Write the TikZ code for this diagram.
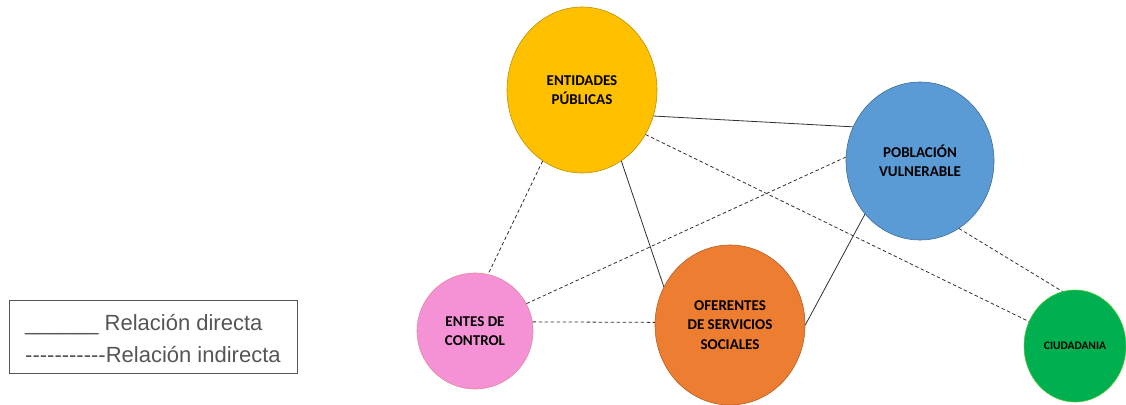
\documentclass[tikz,border=0pt]{standalone}
\usepackage{fontspec}
\setmainfont{Carlito}
\newfontfamily\legfont{Liberation Sans}
\usetikzlibrary{shapes.geometric}
\definecolor{amarillo}{HTML}{FFC000}
\definecolor{azul}{HTML}{5B9BD5}
\definecolor{rosa}{HTML}{F592D6}
\definecolor{naranja}{HTML}{ED7D31}
\definecolor{verde}{HTML}{00B050}
\definecolor{linea}{HTML}{303030}
\definecolor{gris}{HTML}{555555}

\begin{document}
\begin{tikzpicture}[x=1pt,y=-1pt] \tikzset{% circles, lines and legend
        ent/.style={ellipse,inner sep=0pt,align=center,line width=0.6pt,
          font=\bfseries\fontsize{15}{19.5}\selectfont},
        c1/.style={-, linea, line width=0.8pt},
        c2/.style={linea, line width=0.8pt, dash pattern=on 3.5pt off 2.5pt},
        %leg/.style={gris},
        leg/.style={inner sep=0pt, anchor=base west, text=gris, font=\legfont\fontsize{22}{26}\selectfont},
        }
        \useasboundingbox (0,0) rectangle (1126,404);
        % Nodes
        \node[ent,fill=amarillo,draw=amarillo!75!black,minimum width=150,minimum height=166] (n1) at (582,90) {ENTIDADES\\PÚBLICAS};
        \node[ent,fill=azul,draw=azul!70!black,minimum width=148,minimum height=158] (n2) at (920,161) {POBLACIÓN\\VULNERABLE};
        \node[ent,fill=rosa,draw=rosa!60!brown,minimum width=116,minimum height=116] (n3) at (475,331) {ENTES DE\\CONTROL};
        \node[ent,fill=naranja,draw=naranja!75!black,minimum width=150,minimum height=160] (n4) at (730,325) {OFERENTES\\DE SERVICIOS\\SOCIALES};
        \node[ent,fill=verde,draw=verde!70!yellow,minimum width=102,minimum height=112,
          font=\bfseries\fontsize{11.5}{14}\selectfont] (n5) at (1075,346) {CIUDADANIA};
        %Edges
        \draw[c1] (n1.-20) -- (n2.153); \draw[c1] (n1.-61) -- (n4.150); \draw[c1] (n2.224) -- (n4.0);
        \draw[c2] (n1.241) -- (n3.77); \draw[c2] (n1.-35) -- (n5.152); \draw[c2] (n2.-60) -- (n5.103);
        \draw[c2] (n3.28) -- (n2.177); \draw[c2] (n3.9) -- (n4.178);
        % Legend
        \node[draw=gris,line width=0.9pt,minimum width=288,minimum height=73,anchor=north west,inner sep=0pt] (box) at (9,300) {};
        \node[leg] (l1) at (25,330) {\_\_\_\_\_\_ Relación directa};
        \node[leg] (l2) at (25,362) {-{}-{}-{}-{}-{}-{}-{}-{}-{}-{}-Relación indirecta};
\end{tikzpicture}
\end{document}
